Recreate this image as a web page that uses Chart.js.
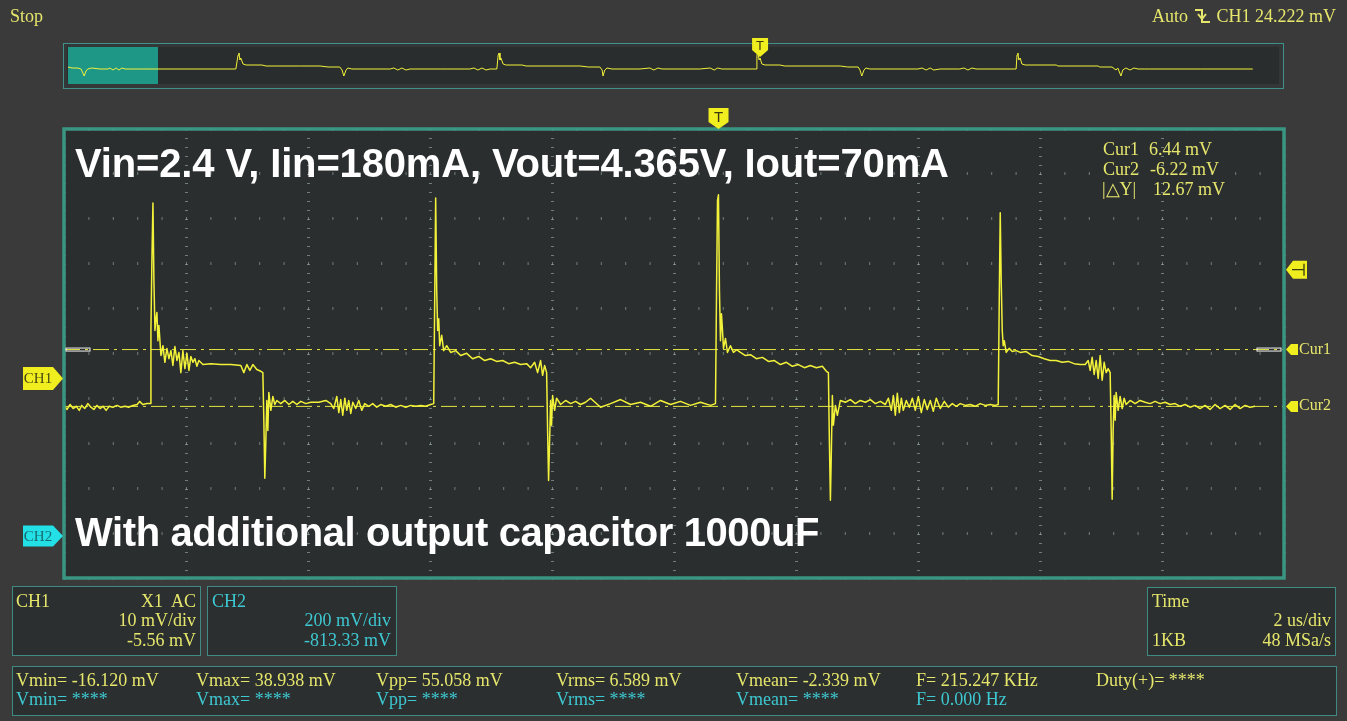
<!DOCTYPE html>
<html>
<head>
<meta charset="utf-8">
<title>CH1 ripple</title>
<script src="https://cdn.jsdelivr.net/npm/chart.js@4.4.1/dist/chart.umd.min.js"></script>
<style>
    html, body { margin: 0; padding: 0; background: #3a3a3a; width: 1347px; height: 721px; overflow: hidden; }
    #stage { position: relative; width: 1347px; height: 721px; font-family: "Liberation Serif", "Times New Roman", serif; font-size: 18px; line-height: 20px; color: #e6e66c; }
    .txt { position: absolute; white-space: pre; z-index: 3; }
    .r { text-align: right; }
    .cyan { color: #3ec8d2; }
    .panel { position: absolute; box-sizing: border-box; border: 1px solid #3f8a82; background: #2b2f2f; z-index: 0; }
    .big { position: absolute; font-family: "Liberation Sans", Arial, sans-serif; font-weight: bold; font-size: 40px; line-height: 40px; color: #ffffff; white-space: pre; z-index: 3; }
    .tag { position: absolute; white-space: pre; line-height: 1; z-index: 4; transform: translate(-50%, -50%); }
    .tagLeft { transform: translate(0, -50%); }
    canvas { position: absolute; left: 0; z-index: 1; }
</style>
</head>
<body>
<div id="stage">
    <!-- overview strip -->
    <div class="panel" style="left:63px; top:43px; width:1221px; height:46px; background:#333737; border-color:#3f918a;"></div>
    <div class="panel" style="left:67px; top:47px; width:1212px; height:37px; background:#292d2d; border:none;"></div>

    <canvas id="overview" width="1347" height="70" style="top:30px;"></canvas>
    <canvas id="scope" width="1347" height="721" style="top:0;"></canvas>

    <div class="txt" style="left:10px; top:6px;">Stop</div>
    <div class="txt" style="left:1152px; top:6px;">Auto</div>
    <svg style="position:absolute; left:1194px; top:8px; z-index:3;" width="18" height="16" viewBox="0 0 18 16">
        <polyline points="1,2 8,2 8,14 16,14" fill="none" stroke="#e6e66c" stroke-width="2"/>
        <polyline points="4,6 8,11 12,6" fill="none" stroke="#e6e66c" stroke-width="2"/>
    </svg>
    <div class="txt r" style="right:11px; top:6px;">CH1 24.222 mV</div>

    <div class="big" style="left:75px; top:143px; letter-spacing:-0.15px;">Vin=2.4 V, Iin=180mA, Vout=4.365V, Iout=70mA</div>
    <div class="big" style="left:75px; top:512px; letter-spacing:-0.4px;">With additional output capacitor 1000uF</div>

    <div class="txt" style="left:1103px; top:139px;">Cur1</div>
    <div class="txt" style="left:1149px; top:139px;">6.44 mV</div>
    <div class="txt" style="left:1103px; top:159px;">Cur2</div>
    <div class="txt" style="left:1150px; top:159px;">-6.22 mV</div>
    <div class="txt" style="left:1102px; top:179px;">|△Y|</div>
    <div class="txt" style="left:1153px; top:179px;">12.67 mV</div>

    <!-- channel / time panels -->
    <div class="panel" style="left:12px; top:586px; width:189px; height:70px;"></div>
    <div class="txt" style="left:16px; top:591px;">CH1</div>
    <div class="txt r" style="right:1151px; top:591px;">X1  AC</div>
    <div class="txt r" style="right:1151px; top:610px;">10 mV/div</div>
    <div class="txt r" style="right:1151px; top:630px;">-5.56 mV</div>

    <div class="panel" style="left:207px; top:586px; width:190px; height:70px;"></div>
    <div class="txt cyan" style="left:212px; top:591px;">CH2</div>
    <div class="txt r cyan" style="right:956px; top:610px;">200 mV/div</div>
    <div class="txt r cyan" style="right:956px; top:630px;">-813.33 mV</div>

    <div class="panel" style="left:1147px; top:587px; width:189px; height:69px;"></div>
    <div class="txt" style="left:1152px; top:591px;">Time</div>
    <div class="txt r" style="right:16px; top:610px;">2 us/div</div>
    <div class="txt" style="left:1152px; top:630px;">1KB</div>
    <div class="txt r" style="right:16px; top:630px;">48 MSa/s</div>

    <!-- measurements -->
    <div class="panel" style="left:12px; top:666px; width:1325px; height:50px;"></div>
    <div class="txt" style="left:16px; top:670px;">Vmin= -16.120 mV</div>
    <div class="txt" style="left:196px; top:670px;">Vmax= 38.938 mV</div>
    <div class="txt" style="left:376px; top:670px;">Vpp= 55.058 mV</div>
    <div class="txt" style="left:556px; top:670px;">Vrms= 6.589 mV</div>
    <div class="txt" style="left:736px; top:670px;">Vmean= -2.339 mV</div>
    <div class="txt" style="left:916px; top:670px;">F= 215.247 KHz</div>
    <div class="txt" style="left:1096px; top:670px;">Duty(+)= ****</div>
    <div class="txt cyan" style="left:16px; top:689px;">Vmin= ****</div>
    <div class="txt cyan" style="left:196px; top:689px;">Vmax= ****</div>
    <div class="txt cyan" style="left:376px; top:689px;">Vpp= ****</div>
    <div class="txt cyan" style="left:556px; top:689px;">Vrms= ****</div>
    <div class="txt cyan" style="left:736px; top:689px;">Vmean= ****</div>
    <div class="txt cyan" style="left:916px; top:689px;">F= 0.000 Hz</div>
</div>

<script>
// scope settings
const ch1ScaleMv = 10;
const ch1OffsetMv = -5.56;
const ch2ScaleMv = 200;
const ch2OffsetMv = -813.33;
const timeDivUs = 2;
const cursor1Mv = 6.44;
const cursor2Mv = -6.22;
const triggerLevelMv = 24.222;
const triggerTimeUs = 10.73;
const overviewSpanUs = 268.9;
const overviewTriggerUs = 153.8;
const overviewMinMv = -48;
const overviewMaxMv = 55.6;

// CH1 trace (time in us, voltage in mV)
const baselineUs = [0.00,0.05,0.10,0.15,0.20,0.25,0.29,0.34,0.39,0.44,0.49,0.54,0.59,0.64,0.69,0.74,0.80,0.87,0.93,1.00,1.06,1.13,1.20,1.24,1.29,1.36,1.41];
const baselineMv = [-6.0,-6.9,-5.8,-6.7,-6.2,-7.1,-6.0,-6.7,-5.6,-6.4,-6.9,-6.0,-6.7,-6.2,-7.1,-6.2,-6.4,-6.0,-6.4,-6.2,-6.4,-6.0,-5.8,-5.1,-5.8,-5.6,-5.6];

const pulse1Us = [1.425,1.441,1.458,1.474,1.491,1.507,1.523,1.540,1.556,1.589,
    1.622,1.654,1.687,1.720,1.753,1.785,1.818,1.851,1.884,1.916,
    1.949,1.982,2.015,2.048,2.080,2.113,2.146,2.179,2.211,2.277,
    2.408,2.572,2.735,2.899,2.948,2.998,3.047,3.096,3.161,3.227,
    3.260,3.276,3.292,3.309,3.325,3.342,3.358,3.391,3.424,3.456,
    3.489,3.554,3.620,3.686,3.751,3.817,3.882,3.964,4.046,4.177,
    4.292,4.373,4.423,4.472,4.505,4.537,4.570,4.603,4.636,4.668,
    4.701,4.734,4.783,4.832,4.881,4.930,4.996,5.061,5.127,5.192,
    5.274,5.356,5.438,5.520,5.602,5.684,5.766,5.848,5.930,6.011,
    6.061];
const pulse1Mv = [10.7,26.2,39.1,21.8,10.7,13.3,14.7,8.4,11.8,5.1,
    7.3,3.6,6.7,4.4,6.2,2.9,7.1,4.0,5.8,1.3,
    6.2,2.2,5.6,1.8,4.9,3.6,4.4,2.7,4.0,3.1,
    3.3,3.1,3.1,2.9,1.3,3.1,1.8,3.1,2.0,1.6,
    1.3,-9.3,-22.2,-13.8,-4.9,-11.6,-3.1,-7.1,-4.0,-5.8,
    -4.9,-5.6,-4.9,-5.8,-5.1,-5.8,-5.1,-5.6,-5.3,-5.3,
    -4.9,-5.6,-6.7,-4.0,-7.6,-4.7,-8.2,-4.4,-7.1,-4.9,
    -7.8,-5.3,-6.7,-4.9,-7.1,-5.6,-6.2,-5.6,-6.4,-5.8,
    -6.2,-5.8,-6.4,-6.0,-6.4,-6.0,-6.2,-6.0,-6.2,-5.8,
    -5.6];

const pulse2Us = [6.077,6.093,6.110,6.126,6.143,6.159,6.192,6.224,6.274,6.339,
    6.421,6.503,6.601,6.699,6.798,6.896,6.994,7.093,7.191,7.289,
    7.387,7.486,7.584,7.649,7.715,7.764,7.813,7.846,7.879,7.912,
    7.928,7.944,7.961,7.977,7.993,8.010,8.043,8.075,8.141,8.223,
    8.305,8.387,8.468,8.550,8.632,8.796,8.960,9.124,9.287,9.451,
    9.615,9.779,9.943,10.106,10.270,10.434,10.598,10.680];
const pulse2Mv = [17.3,40.2,19.6,10.7,13.3,7.3,9.6,6.2,7.3,5.8,
    6.2,5.1,5.6,4.4,4.9,4.0,4.4,3.8,4.0,3.3,
    3.6,3.1,3.3,2.4,3.6,1.3,4.0,0.7,2.9,1.3,
    -11.6,-22.7,-13.8,-4.9,-10.4,-3.8,-7.1,-4.4,-5.8,-4.9,
    -5.6,-5.1,-5.8,-5.3,-4.4,-6.4,-5.6,-4.7,-5.8,-5.3,
    -6.2,-4.9,-5.8,-5.1,-6.0,-5.3,-6.0,-5.6];

const pulse3Us = [10.696,10.713,10.729,10.745,10.762,10.778,10.795,10.811,10.844,10.876,
    10.926,10.975,11.024,11.089,11.171,11.253,11.351,11.450,11.548,11.646,
    11.745,11.843,11.941,12.039,12.138,12.236,12.334,12.432,12.498,12.531,
    12.547,12.564,12.580,12.596,12.613,12.646,12.678,12.727,12.809,12.891,
    12.973,13.055,13.137,13.219,13.301,13.383,13.464,13.514,13.563,13.596,
    13.628,13.661,13.694,13.727,13.759,13.808,13.858,13.907,13.956,14.005,
    14.054,14.103,14.152,14.201,14.251,14.300,14.365,14.431,14.496,14.562,
    14.627,14.693,14.775,14.857,14.939,15.020,15.102,15.184,15.266,15.315];
const pulse3Mv = [17.3,39.6,40.9,19.6,8.4,14.4,10.7,6.7,8.9,5.8,
    7.3,5.8,6.4,5.8,5.1,5.3,4.4,4.7,3.8,4.0,
    3.1,3.6,2.7,3.1,2.4,2.9,2.4,2.7,1.6,1.3,
    -13.8,-27.1,-16.0,-3.8,-10.4,-6.0,-8.2,-4.9,-5.3,-4.7,
    -5.6,-4.9,-5.3,-4.7,-5.6,-5.1,-5.8,-4.4,-7.1,-3.8,
    -8.2,-3.3,-7.6,-4.4,-7.1,-4.9,-6.4,-4.4,-7.1,-4.0,
    -7.6,-4.7,-6.9,-4.9,-7.3,-4.4,-6.7,-5.1,-6.4,-5.6,
    -6.2,-5.6,-6.0,-5.8,-6.2,-5.6,-6.0,-5.8,-6.0,-5.8];

const pulse4Us = [15.332,15.348,15.364,15.381,15.397,15.414,15.446,15.495,15.545,15.610,
    15.676,15.774,15.872,15.971,16.069,16.167,16.265,16.364,16.462,16.560,
    16.659,16.741,16.790,16.823,16.855,16.888,16.921,16.954,16.986,17.019,
    17.052,17.085,17.117,17.150,17.167,17.183,17.199,17.216,17.232,17.248,
    17.281,17.314,17.347,17.379,17.412,17.478,17.560,17.641,17.723,17.805,
    17.887,17.969,18.051,18.133,18.215,18.297,18.379,18.460,18.542,18.624,
    18.706,18.788,18.870,18.952,19.034,19.116,19.198,19.280,19.362,19.443,
    19.525];
const pulse4Mv = [17.3,36.9,21.8,10.7,7.3,8.4,5.8,6.7,6.0,6.2,
    5.8,6.0,5.1,4.9,4.4,4.0,4.0,3.6,3.8,3.3,
    3.1,3.1,4.0,1.8,4.7,0.9,4.0,0.0,5.1,-0.4,
    3.6,1.3,2.2,1.3,-11.6,-26.9,-11.6,-3.8,-9.3,-3.1,
    -7.1,-4.0,-6.7,-4.4,-5.8,-4.9,-5.6,-4.9,-5.3,-5.6,
    -5.1,-5.6,-5.3,-5.8,-5.6,-6.2,-5.8,-6.4,-6.0,-6.7,
    -6.0,-6.9,-5.8,-6.7,-6.0,-6.9,-5.8,-6.7,-6.0,-6.4,
    -6.2];

// memory overview strip (whole record)
const overviewUs = [0.0,0.9,2.2,2.9,3.3,3.6,4.0,4.4,5.3,7.1,
    8.9,9.3,10.0,10.7,11.3,12.0,12.7,13.8,15.6,24.9,
    37.3,37.8,38.0,38.2,38.4,38.9,39.6,43.1,44.0,47.1,
    51.6,56.0,57.8,60.4,60.9,61.3,61.8,62.2,63.1,64.9,
    71.6,72.4,73.3,74.2,75.1,76.0,82.7,89.3,90.2,91.1,
    92.0,92.9,93.8,95.3,95.6,95.8,96.0,96.2,96.7,97.3,
    100.9,101.8,113.8,115.6,118.2,118.7,118.9,119.3,119.8,120.9,
    127.1,129.3,130.2,131.1,132.0,140.4,142.7,143.6,144.4,145.3,
    152.9,153.1,153.3,153.6,153.8,154.2,154.9,158.2,159.3,171.6,
    173.3,175.6,176.0,176.4,176.9,177.3,178.2,184.9,188.9,189.8,
    190.7,191.6,192.4,193.8,198.2,199.1,200.0,200.9,201.8,210.7,
    210.9,211.1,211.3,211.6,212.0,212.7,219.6,220.0,228.9,229.3,
    232.0,232.9,233.3,234.0,234.4,235.1,236.0,236.9,237.8,240.4,
    251.6,263.3];
const overviewMv = [-0.4,-3.2,-3.2,-6.0,-17.2,-25.6,-11.6,-6.0,-3.2,-6.0,
    -6.0,-3.2,-8.8,-3.2,-8.8,-3.2,-6.0,-6.0,-6.0,-6.0,
    -6.0,33.2,38.8,19.2,24.8,8.0,5.2,5.2,2.4,2.4,
    2.4,2.4,-0.4,-0.4,-8.8,-25.6,-8.8,-3.2,-6.0,-6.0,
    -6.0,-3.2,-8.8,-3.2,-8.8,-6.0,-6.0,-6.0,-3.2,-8.8,
    -3.2,-8.8,-6.0,-6.0,33.2,38.8,19.2,24.8,8.0,5.2,
    5.2,2.4,2.4,-0.4,-0.4,-8.8,-25.6,-8.8,-3.2,-6.0,
    -6.0,-3.2,-8.8,-3.2,-6.0,-6.0,-3.2,-8.8,-3.2,-6.0,
    -6.0,33.2,38.8,19.2,24.8,8.0,5.2,5.2,2.4,2.4,
    -0.4,-0.4,-8.8,-25.6,-8.8,-3.2,-6.0,-6.0,-6.0,-3.2,
    -8.8,-3.2,-8.8,-6.0,-6.0,-3.2,-8.8,-3.2,-6.0,-6.0,
    33.2,38.8,19.2,24.8,8.0,5.2,5.2,2.4,2.4,-0.4,
    -0.4,-8.8,-3.2,-25.6,-8.8,-3.2,-8.8,-3.2,-6.0,-6.0,
    -6.0,-6.0];

const traceUs = [].concat(baselineUs, pulse1Us, pulse2Us, pulse3Us, pulse4Us);
const traceMv = [].concat(baselineMv, pulse1Mv, pulse2Mv, pulse3Mv, pulse4Mv);

const YELLOW = '#f3f23a';
const MARK_YELLOW = '#f0ee1e';
const MARK_CYAN = '#22e0e6';
const FRAME = '#3a9682';

const centerMv = -ch1OffsetMv;
const yMin = centerMv - 5 * ch1ScaleMv;
const yMax = centerMv + 5 * ch1ScaleMv;
const xMax = 10 * timeDivUs;
const ch2LevelMv = centerMv + ch2OffsetMv / ch2ScaleMv * ch1ScaleMv;

function pentagon(ctx, pts, fill) {
    ctx.beginPath();
    ctx.moveTo(pts[0][0], pts[0][1]);
    for (let i = 1; i < pts.length; i++) ctx.lineTo(pts[i][0], pts[i][1]);
    ctx.closePath();
    ctx.fillStyle = fill;
    ctx.fill();
}

function downMarker(ctx, cx, top, tip, half) {
    pentagon(ctx, [[cx - half, top], [cx + half, top], [cx + half, tip - 7], [cx, tip], [cx - half, tip - 7]], MARK_YELLOW);
}

const scopeFrame = {
    id: 'scopeFrame',
    beforeDraw(chart) {
        const { ctx, chartArea: a } = chart;
        ctx.save();
        ctx.fillStyle = '#2a2e2e';
        ctx.fillRect(a.left, a.top, a.right - a.left, a.bottom - a.top);
        ctx.restore();
    },
    afterDraw(chart) {
        const { ctx, chartArea: a, scales: { x, y } } = chart;
        ctx.save();
        ctx.strokeStyle = FRAME;
        ctx.lineWidth = 3.5;
        ctx.strokeRect(a.left, a.top, a.right - a.left, a.bottom - a.top);

        // cursor handles on both ends of Cur1
        const c1 = y.getPixelForValue(cursor1Mv);
        ctx.strokeStyle = '#f4f4f4';
        ctx.lineWidth = 1;
        ctx.strokeRect(a.left + 2, c1 - 1.5, 24, 3);
        ctx.strokeRect(a.right - 27, c1 - 1.5, 24, 3);

        // channel markers, left side
        const y0 = y.getPixelForValue(0);
        pentagon(ctx, [[23, y0 - 11.5], [53, y0 - 11.5], [63, y0], [53, y0 + 11.5], [23, y0 + 11.5]], MARK_YELLOW);
        const y2 = y.getPixelForValue(ch2LevelMv);
        pentagon(ctx, [[23, y2 - 10.5], [53, y2 - 10.5], [63, y2], [53, y2 + 10.5], [23, y2 + 10.5]], MARK_CYAN);

        // trigger level marker, right side
        const yt = y.getPixelForValue(triggerLevelMv);
        const r = a.right + 2;
        pentagon(ctx, [[r, yt], [r + 7, yt - 9], [r + 21, yt - 9], [r + 21, yt + 9], [r + 7, yt + 9]], MARK_YELLOW);
        ctx.strokeStyle = '#3a3a10';
        ctx.lineWidth = 1.3;
        ctx.beginPath();
        ctx.moveTo(r + 6, yt); ctx.lineTo(r + 18, yt);
        ctx.moveTo(r + 18, yt - 6); ctx.lineTo(r + 18, yt + 6);
        ctx.stroke();

        // cursor markers
        [cursor1Mv, cursor2Mv].forEach(v => {
            const yc = y.getPixelForValue(v);
            pentagon(ctx, [[r, yc], [r + 5, yc - 5.5], [r + 12, yc - 5.5], [r + 12, yc + 5.5], [r + 5, yc + 5.5]], MARK_YELLOW);
        });

        // trigger time marker
        downMarker(ctx, x.getPixelForValue(triggerTimeUs), a.top - 21, a.top, 10);
        ctx.restore();
    }
};

const overviewFrame = {
    id: 'overviewFrame',
    beforeDatasetsDraw(chart) {
        const { ctx, chartArea: a, scales: { x } } = chart;
        ctx.save();
        ctx.fillStyle = '#1f9787';
        const l = x.getPixelForValue(0);
        ctx.fillRect(l, a.top, x.getPixelForValue(xMax) - l, a.bottom - a.top);
        ctx.restore();
    },
    afterDraw(chart) {
        const { ctx, chartArea: a, scales: { x } } = chart;
        ctx.save();
        downMarker(ctx, x.getPixelForValue(overviewTriggerUs), a.top - 9, a.top + 10, 8);
        ctx.restore();
    }
};

const scopeChart = new Chart(document.getElementById('scope'), {
    type: 'scatter',
    data: {
        datasets: [
            {
                data: traceUs.map((t, i) => ({ x: t, y: traceMv[i] })),
                showLine: true,
                borderColor: YELLOW,
                borderWidth: 1.5,
                borderJoinStyle: 'round',
                pointRadius: 0,
                tension: 0
            },
            {
                data: [{ x: 0, y: cursor1Mv }, { x: xMax, y: cursor1Mv }],
                showLine: true,
                borderColor: '#e4e440',
                borderWidth: 1,
                borderDash: [16, 5, 3, 5],
                pointRadius: 0
            },
            {
                data: [{ x: 0, y: cursor2Mv }, { x: xMax, y: cursor2Mv }],
                showLine: true,
                borderColor: '#e4e440',
                borderWidth: 1,
                borderDash: [16, 5, 3, 5],
                pointRadius: 0
            }
        ]
    },
    options: {
        responsive: false,
        animation: false,
        events: [],
        layout: { padding: { left: 64, top: 129, right: 63, bottom: 143 } },
        plugins: { legend: { display: false }, tooltip: { enabled: false } },
        scales: {
            x: {
                type: 'linear',
                min: 0,
                max: xMax,
                ticks: { display: false },
                grid: { color: 'rgba(150,168,165,0.65)', lineWidth: 3, drawTicks: false },
                border: { display: false, dash: [1, 8] },
                afterBuildTicks: scale => {
                    const ticks = [];
                    for (let k = 0; k <= 10; k++) ticks.push({ value: k * timeDivUs });
                    scale.ticks = ticks;
                }
            },
            y: {
                type: 'linear',
                min: yMin,
                max: yMax,
                ticks: { display: false },
                grid: { color: 'rgba(150,168,165,0.65)', lineWidth: 3, drawTicks: false },
                border: { display: false, dash: [1, 23.4] },
                afterBuildTicks: scale => {
                    const ticks = [];
                    for (let k = -5; k <= 5; k++) ticks.push({ value: centerMv + k * ch1ScaleMv });
                    scale.ticks = ticks;
                }
            }
        }
    },
    plugins: [scopeFrame]
});

const overviewChart = new Chart(document.getElementById('overview'), {
    type: 'scatter',
    data: {
        datasets: [{
            data: overviewUs.map((t, i) => ({ x: t, y: overviewMv[i] })),
            showLine: true,
            borderColor: YELLOW,
            borderWidth: 1,
            pointRadius: 0,
            tension: 0
        }]
    },
    options: {
        responsive: false,
        animation: false,
        events: [],
        layout: { padding: { left: 68, top: 17, right: 69, bottom: 16 } },
        plugins: { legend: { display: false }, tooltip: { enabled: false } },
        scales: {
            x: { type: 'linear', display: false, min: 0, max: overviewSpanUs },
            y: { type: 'linear', display: false, min: overviewMinMv, max: overviewMaxMv }
        }
    },
    plugins: [overviewFrame]
});

// labels that sit on the markers
const stage = document.getElementById('stage');
function tag(text, cx, cy, style, left) {
    const d = document.createElement('div');
    d.className = left ? 'tag tagLeft' : 'tag';
    d.textContent = text;
    d.style.left = cx + 'px';
    d.style.top = cy + 'px';
    Object.assign(d.style, style);
    stage.appendChild(d);
}

const sx = scopeChart.scales.x;
const sy = scopeChart.scales.y;
const area = scopeChart.chartArea;
tag('CH1', 38, sy.getPixelForValue(0), { fontSize: '15px', color: '#4a4a12' });
tag('CH2', 38, sy.getPixelForValue(ch2LevelMv), { fontSize: '15px', color: '#176a70' });
tag('Cur1', area.right + 15, sy.getPixelForValue(cursor1Mv) - 1, { fontSize: '16px' }, true);
tag('Cur2', area.right + 15, sy.getPixelForValue(cursor2Mv) - 1, { fontSize: '16px' }, true);
tag('T', sx.getPixelForValue(triggerTimeUs), area.top - 13, { fontFamily: '"Liberation Sans", sans-serif', fontSize: '15px', color: '#3a3a10' });
const ox = overviewChart.scales.x;
tag('T', ox.getPixelForValue(overviewTriggerUs), 30 + overviewChart.chartArea.top - 2, { fontFamily: '"Liberation Sans", sans-serif', fontSize: '13px', color: '#3a3a10' });
</script>
</body>
</html>
